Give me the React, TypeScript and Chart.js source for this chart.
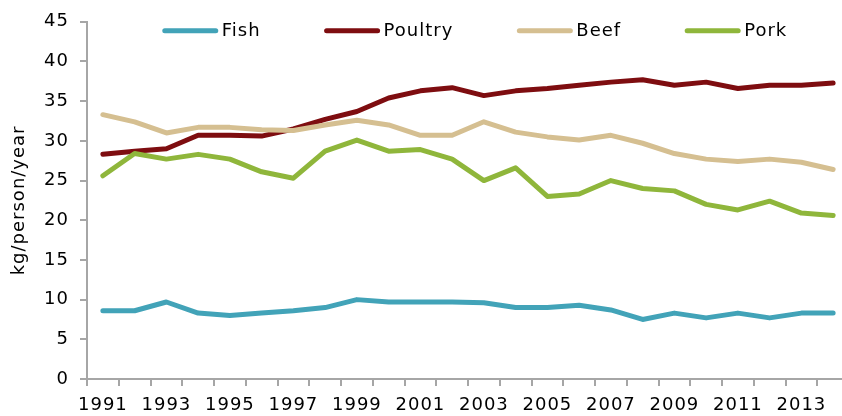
import { useEffect, useRef } from "react";
import { Chart, registerables } from "chart.js";

Chart.register(...registerables);

const years = [
  "1991", "1992", "1993", "1994", "1995", "1996", "1997", "1998",
  "1999", "2000", "2001", "2002", "2003", "2004", "2005", "2006",
  "2007", "2008", "2009", "2010", "2011", "2012", "2013", "2014",
];

const fish = [8.6, 8.6, 9.7, 8.3, 8.0, 8.3, 8.6, 9.0, 10.0, 9.7, 9.7, 9.7, 9.6, 9.0, 9.0, 9.3, 8.7, 7.5, 8.3, 7.7, 8.3, 7.7, 8.3, 8.3];
const poultry = [28.3, 28.7, 29.0, 30.7, 30.7, 30.6, 31.5, 32.7, 33.7, 35.4, 36.3, 36.7, 35.7, 36.3, 36.6, 37.0, 37.4, 37.7, 37.0, 37.4, 36.6, 37.0, 37.0, 37.3];
const beef = [33.3, 32.4, 31.0, 31.7, 31.7, 31.4, 31.3, 32.0, 32.6, 32.0, 30.7, 30.7, 32.4, 31.1, 30.5, 30.1, 30.7, 29.7, 28.4, 27.7, 27.4, 27.7, 27.3, 26.4];
const pork = [25.6, 28.4, 27.7, 28.3, 27.7, 26.1, 25.3, 28.7, 30.1, 28.7, 28.9, 27.7, 25.0, 26.6, 23.0, 23.3, 25.0, 24.0, 23.7, 22.0, 21.3, 22.4, 20.9, 20.6];

const seriesNames = ["Fish", "Poultry", "Beef", "Pork"];
const yTitle = "kg/person/year";

const FONT = "'DejaVu Sans', sans-serif";
const SPACING = "1px";
const AXIS = "#A6A6A6";

const letterSpacingPlugin = {
  id: "letterSpacing",
  beforeUpdate(chart: any) {
    chart.ctx.letterSpacing = SPACING;
  },
  beforeDraw(chart: any) {
    chart.ctx.letterSpacing = SPACING;
  },
};

const legendPlugin = {
  id: "customLegend",
  afterDraw(chart: any) {
    const { ctx, chartArea } = chart;
    const sample = 55;
    const gapText = 4;
    const gapItem = 64;
    ctx.save();
    ctx.font = `18px ${FONT}`;
    ctx.letterSpacing = SPACING;
    const items = chart.data.datasets.map((ds: any) => ({
      label: ds.label,
      color: ds.borderColor,
      w: ctx.measureText(ds.label).width,
    }));
    const total =
      items.reduce((s: number, it: any) => s + sample + gapText + it.w, 0) +
      gapItem * (items.length - 1);
    let x = (chartArea.left + chartArea.right) / 2 + 7 - total / 2;
    const y = chartArea.top + 9;
    for (const it of items) {
      ctx.beginPath();
      ctx.strokeStyle = it.color;
      ctx.lineWidth = 5;
      ctx.lineCap = "round";
      ctx.moveTo(x + 2, y);
      ctx.lineTo(x + sample - 2, y);
      ctx.stroke();
      ctx.fillStyle = "#000";
      ctx.textBaseline = "middle";
      ctx.textAlign = "left";
      ctx.fillText(it.label, x + sample + gapText, y + 0.5);
      x += sample + gapText + it.w + gapItem;
    }
    ctx.restore();
  },
};

export default function App() {
  const ref = useRef<HTMLCanvasElement | null>(null);

  useEffect(() => {
    if (!ref.current) return;
    const mk = (label: string, data: number[], color: string, order: number) => ({
      label,
      data,
      borderColor: color,
      backgroundColor: color,
      borderWidth: 5,
      pointRadius: 0,
      pointHoverRadius: 0,
      tension: 0,
      fill: false,
      borderCapStyle: "round",
      borderJoinStyle: "round",
      order,
    });
    const chart = new Chart(ref.current, {
      type: "line",
      data: {
        labels: years,
        datasets: [
          mk(seriesNames[0], fish, "#42A3B8", 3),
          mk(seriesNames[1], poultry, "#7E0D10", 2),
          mk(seriesNames[2], beef, "#D5BF91", 1),
          mk(seriesNames[3], pork, "#8FB63B", 0),
        ] as any,
      },
      options: {
        animation: false,
        responsive: false,
        devicePixelRatio: 1,
        color: "#000",
        layout: { padding: { top: 19, right: 11, left: 0, bottom: 0 } },
        plugins: {
          legend: { display: false },
          tooltip: { enabled: false },
        },
        scales: {
          x: {
            type: "category",
            offset: true,
            grid: {
              offset: true,
              drawOnChartArea: false,
              drawTicks: true,
              tickLength: 7,
              color: AXIS,
              lineWidth: 2,
            },
            border: { display: true, color: AXIS, width: 2 },
            ticks: {
              autoSkip: false,
              maxRotation: 0,
              minRotation: 0,
              padding: 9,
              color: "#000",
              font: { family: FONT, size: 18 },
              callback: (_v: any, i: number) => (i % 2 === 0 ? years[i] : ""),
            },
            afterFit: (scale: any) => {
              scale.height = 37;
            },
          },
          y: {
            min: 0,
            max: 45,
            grid: {
              drawOnChartArea: false,
              drawTicks: true,
              tickLength: 7,
              color: AXIS,
              lineWidth: 2,
            },
            border: { display: true, color: AXIS, width: 2 },
            ticks: {
              stepSize: 5,
              padding: 11,
              color: "#000",
              font: { family: FONT, size: 18 },
            },
            title: {
              display: true,
              text: yTitle,
              color: "#000",
              font: { family: FONT, size: 18 },
              padding: { top: 9, bottom: 0 },
            },
            afterFit: (scale: any) => {
              scale.width = 87;
            },
          },
        },
      },
      plugins: [letterSpacingPlugin, legendPlugin],
    });
    return () => chart.destroy();
  }, []);

  return (
    <div style={{ position: "fixed", left: 0, top: 0, width: 860, height: 416, background: "#fff" }}>
      <canvas ref={ref} width={860} height={416} style={{ width: 860, height: 416, display: "block" }} />
    </div>
  );
}
